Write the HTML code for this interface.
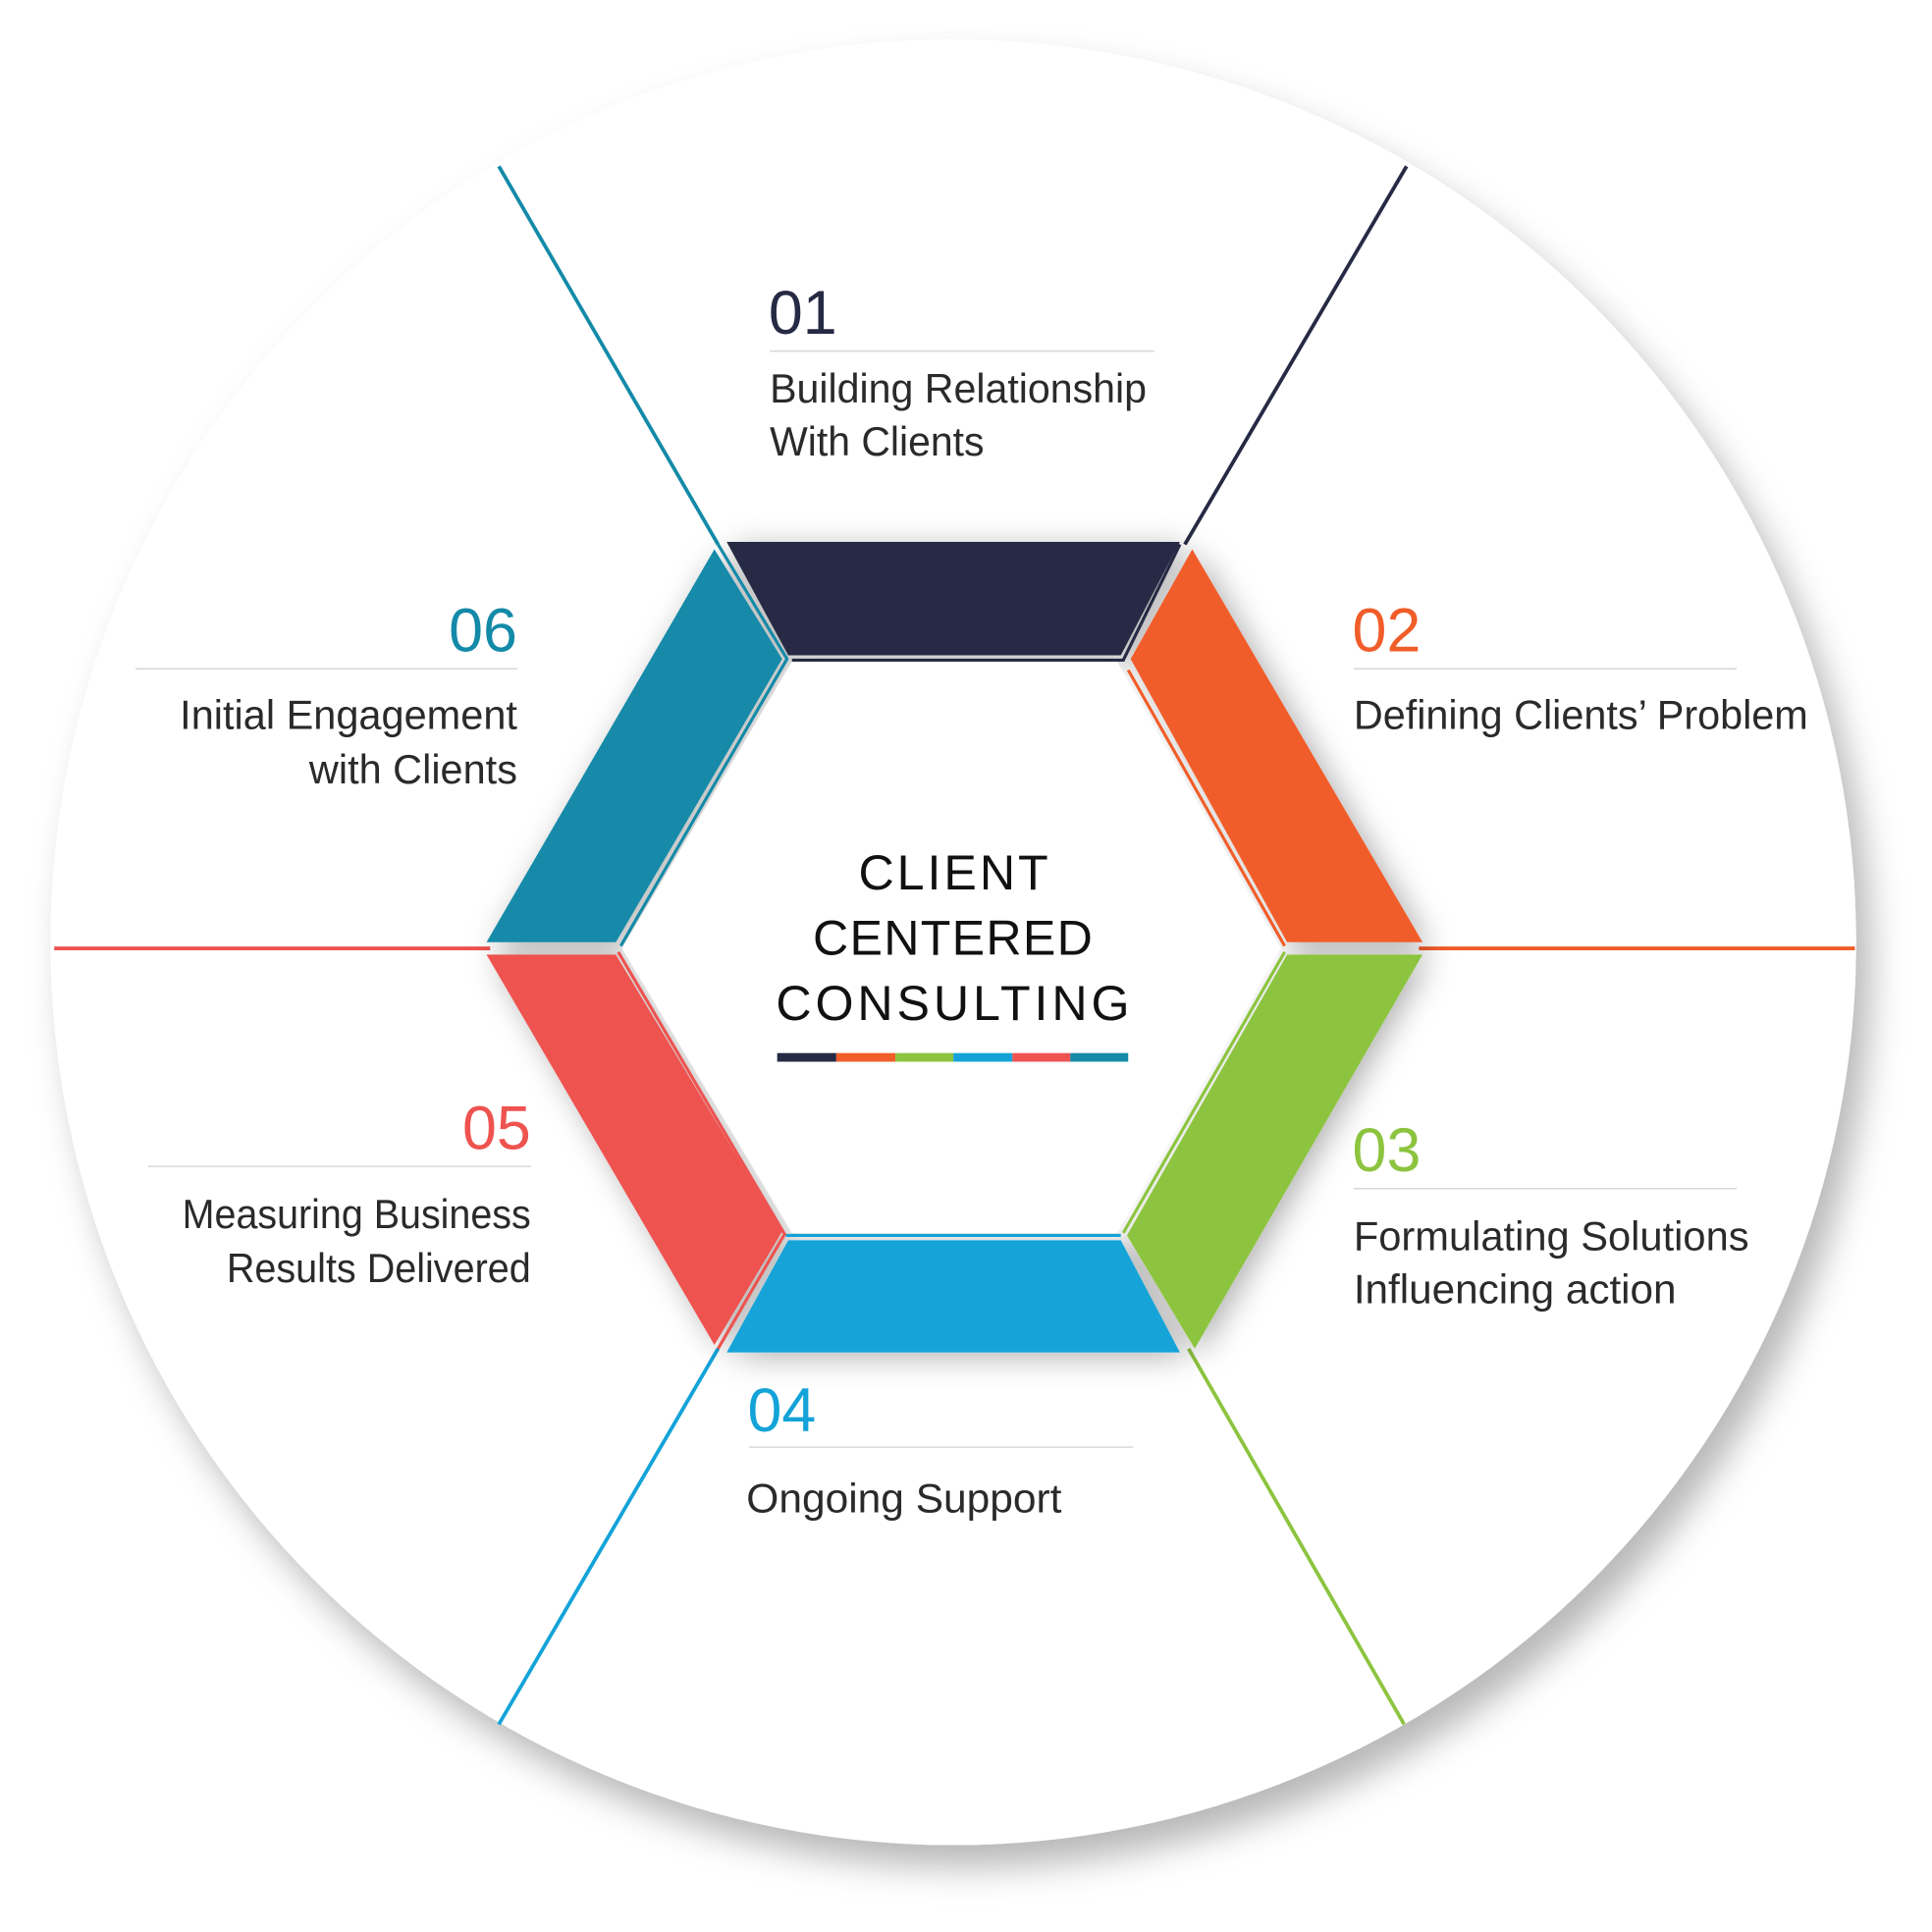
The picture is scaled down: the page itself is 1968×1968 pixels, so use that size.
<!DOCTYPE html>
<html><head><meta charset="utf-8"><style>html,body{margin:0;padding:0;background:#fff}svg{display:block}</style></head>
<body>
<svg width="1968" height="1968" viewBox="0 0 1568.6 1568.6" xmlns="http://www.w3.org/2000/svg" font-family="Liberation Sans, sans-serif">
<defs>
<filter id="cs" x="-20%" y="-20%" width="140%" height="140%"><feDropShadow dx="12" dy="18" stdDeviation="14" flood-color="#000" flood-opacity="0.28"/></filter>
<filter id="hs" x="-30%" y="-30%" width="160%" height="160%"><feDropShadow dx="6" dy="4" stdDeviation="12" flood-color="#000" flood-opacity="0.3"/></filter>
</defs>
<rect width="1568.6" height="1568.6" fill="#fff"/>
<circle cx="774" cy="765" r="733" fill="#fff" filter="url(#cs)"/>
<g stroke-width="3" fill="none">
<line x1="405" y1="135" x2="583" y2="442" stroke="#138aa8"/>
<line x1="1142" y1="135" x2="962" y2="442" stroke="#262a44"/>
<line x1="44" y1="770" x2="398" y2="770" stroke="#ee5350"/>
<line x1="1152" y1="770" x2="1506" y2="770" stroke="#f15d29"/>
<line x1="583" y1="1095" x2="405" y2="1400" stroke="#13a3d8"/>
<line x1="965" y1="1095" x2="1140" y2="1400" stroke="#8cc43f"/>
</g>
<g filter="url(#hs)">
<polygon points="590,440 958,440 910,532 640,532" fill="#262a44"/>
<polygon points="580,446 635,535 500,765 395,765" fill="#138aa8"/>
<polygon points="968,446 1155,765 1045,765 918,535" fill="#f15d29"/>
<polygon points="1045,775 1155,775 970,1095 915,1003" fill="#8cc43f"/>
<polygon points="640,1007 910,1007 958,1098 590,1098" fill="#13a3d8"/>
<polygon points="395,775 500,775 635,1000 580,1092" fill="#ee5350"/>
</g>
<polygon points="643,537 907,537 1040,770 907,1001 643,1001 505,770" fill="#fff"/>
<g stroke-width="2.5" fill="none">
<polyline points="643,536 912,536 958,442" stroke="#262a44"/>
<polyline points="583,442 639,535 504,768" stroke="#138aa8"/>
<line x1="916" y1="544" x2="1043" y2="768" stroke="#f15d29"/>
<line x1="1043" y1="773" x2="912" y2="1001" stroke="#8cc43f"/>
<line x1="638" y1="1003" x2="910" y2="1003" stroke="#13a3d8"/>
<polyline points="502,773 637,1002 583,1095" stroke="#ee5350"/>
</g>
<g font-size="40" fill="#111">
<text x="697" y="722" textLength="154" lengthAdjust="spacing">CLIENT</text>
<text x="660" y="775" textLength="227" lengthAdjust="spacing">CENTERED</text>
<text x="630" y="828" textLength="287" lengthAdjust="spacing">CONSULTING</text>
</g>
<rect x="631" y="855" width="48" height="7" fill="#262a44"/>
<rect x="679" y="855" width="48" height="7" fill="#f15d29"/>
<rect x="727" y="855" width="47" height="7" fill="#8cc43f"/>
<rect x="774" y="855" width="48" height="7" fill="#13a3d8"/>
<rect x="822" y="855" width="47" height="7" fill="#ee5350"/>
<rect x="869" y="855" width="47" height="7" fill="#138aa8"/>
<g stroke="#d8d8d8" stroke-width="1.2">
<line x1="625" y1="285" x2="937" y2="285"/>
<line x1="110" y1="543" x2="420" y2="543"/>
<line x1="1099" y1="543" x2="1410" y2="543"/>
<line x1="120" y1="947" x2="431" y2="947"/>
<line x1="1099" y1="965" x2="1410" y2="965"/>
<line x1="608" y1="1175" x2="920" y2="1175"/>
</g>
<g font-size="50">
<text x="624" y="271" fill="#262a44">01</text>
<text x="420" y="529" fill="#138aa8" text-anchor="end">06</text>
<text x="1098" y="529" fill="#f15d29">02</text>
<text x="431" y="933" fill="#ee5350" text-anchor="end">05</text>
<text x="1098" y="951" fill="#8cc43f">03</text>
<text x="607" y="1162" fill="#13a3d8">04</text>
</g>
<g font-size="33" fill="#2a2a2a">
<text x="625" y="327" textLength="306" lengthAdjust="spacingAndGlyphs">Building Relationship</text>
<text x="625" y="370" textLength="174" lengthAdjust="spacingAndGlyphs">With Clients</text>
<text x="146" y="592" textLength="274" lengthAdjust="spacingAndGlyphs">Initial Engagement</text>
<text x="251" y="636" textLength="169" lengthAdjust="spacingAndGlyphs">with Clients</text>
<text x="1099" y="592" textLength="369" lengthAdjust="spacingAndGlyphs">Defining Clients’ Problem</text>
<text x="148" y="997" textLength="283" lengthAdjust="spacingAndGlyphs">Measuring Business</text>
<text x="184" y="1041" textLength="247" lengthAdjust="spacingAndGlyphs">Results Delivered</text>
<text x="1099" y="1015" textLength="321" lengthAdjust="spacingAndGlyphs">Formulating Solutions</text>
<text x="1099" y="1058" textLength="262" lengthAdjust="spacingAndGlyphs">Influencing action</text>
<text x="606" y="1228" textLength="256" lengthAdjust="spacingAndGlyphs">Ongoing Support</text>
</g>
</svg>
</body></html>
